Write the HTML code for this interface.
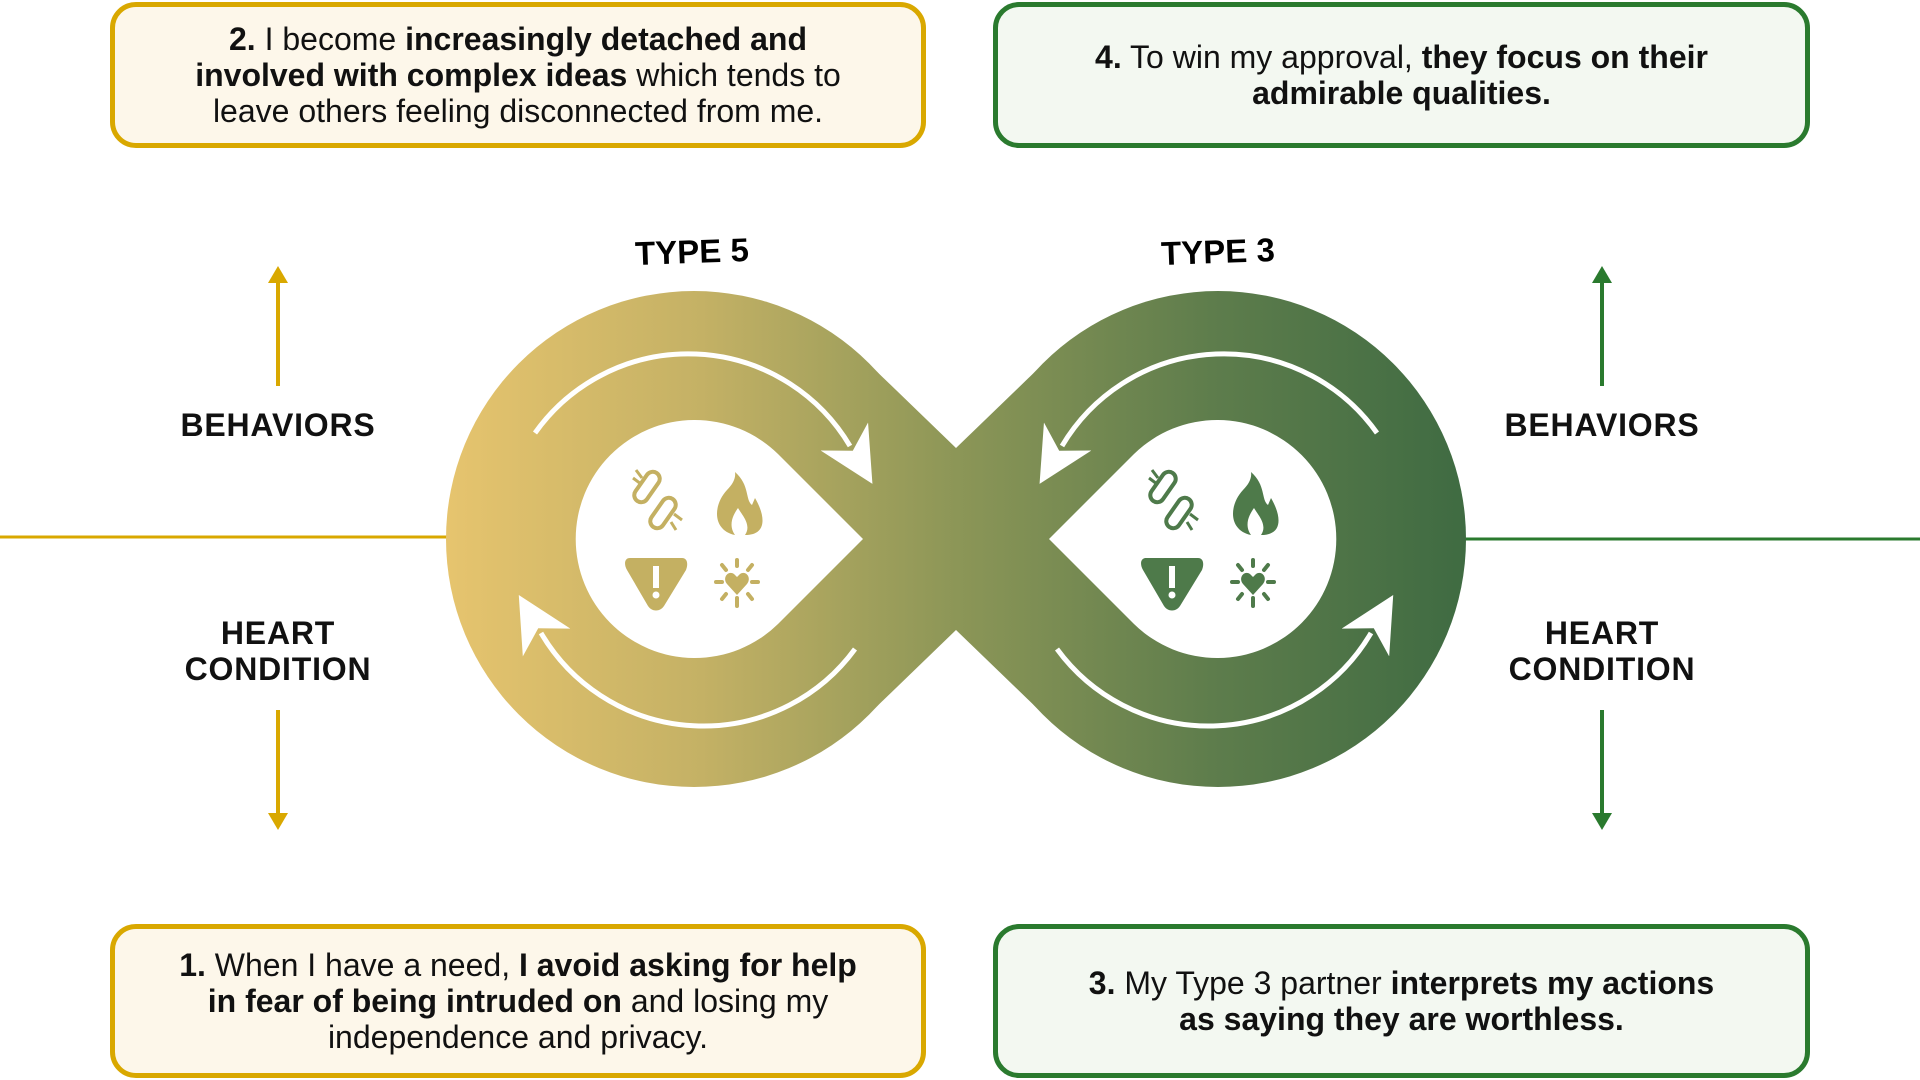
<!DOCTYPE html>
<html><head><meta charset="utf-8"><style>
html,body{margin:0;padding:0;background:#fff;}
body{width:1920px;height:1080px;position:relative;overflow:hidden;font-family:"Liberation Sans",sans-serif;color:#111;}
.box{position:absolute;box-sizing:border-box;border-radius:26px;border:5px solid;display:flex;align-items:center;justify-content:center;text-align:center;font-size:32px;line-height:36px;padding:0 20px;white-space:nowrap;}
.y{border-color:#d9a800;background:#fdf7ea;}
.g{border-color:#2a7a2e;background:#f3f8f1;}
.lbl{position:absolute;font-weight:bold;font-size:32px;letter-spacing:0.8px;line-height:36px;text-align:center;width:300px;}
</style></head><body>
<div class="box y" style="left:110px;top:2px;width:816px;height:146px;"><div><b>2.</b> I become <b>increasingly detached and</b><br><b>involved with complex ideas</b> which tends to<br>leave others feeling disconnected from me.</div></div>
<div class="box g" style="left:993px;top:2px;width:817px;height:146px;"><div><b>4.</b> To win my approval, <b>they focus on their</b><br><b>admirable qualities.</b></div></div>
<div class="box y" style="left:110px;top:924px;width:816px;height:154px;"><div><b>1.</b> When I have a need, <b>I avoid asking for help</b><br><b>in fear of being intruded on</b> and losing my<br>independence and privacy.</div></div>
<div class="box g" style="left:993px;top:924px;width:817px;height:154px;"><div><b>3.</b> My Type 3 partner <b>interprets my actions</b><br><b>as saying they are worthless.</b></div></div>

<div class="lbl" style="left:128px;top:407px;">BEHAVIORS</div>
<div class="lbl" style="left:128px;top:615px;">HEART<br>CONDITION</div>
<div class="lbl" style="left:1452px;top:407px;">BEHAVIORS</div>
<div class="lbl" style="left:1452px;top:615px;">HEART<br>CONDITION</div>

<svg width="1920" height="1080" style="position:absolute;left:0;top:0" xmlns="http://www.w3.org/2000/svg">
<defs>
<linearGradient id="gr" x1="447" y1="0" x2="1466" y2="0" gradientUnits="userSpaceOnUse">
<stop offset="0" stop-color="#e6c46e"/><stop offset="0.25" stop-color="#c4b165"/><stop offset="0.5" stop-color="#8c9657"/><stop offset="0.75" stop-color="#5e7d4c"/><stop offset="1" stop-color="#3f6b42"/>
</linearGradient>
<marker id="ah" viewBox="0 0 10 10" refX="2" refY="5" markerWidth="11" markerHeight="11" markerUnits="strokeWidth" orient="auto"><path d="M0,0 L10,5 L0,10 L3,5 Z" fill="#fff"/></marker>
<g id="ic">
<g fill="none" stroke-width="4"><rect x="640" y="470" width="14" height="34" rx="7" transform="rotate(35 647 487)"/><rect x="656" y="496" width="14" height="34" rx="7" transform="rotate(35 663 513)"/>
<path d="M633,478 l8,6 M636,470 l6,8 M682,520 l-8,-6 M676,530 l-5,-8" stroke-width="3"/></g>
<path stroke="none" d="M735,472 C750,485 745,500 752,505 L755,498 C765,515 768,535 745,535 C752,525 742,515 738,508 C733,515 728,525 735,535 C712,530 713,505 727,490 C733,484 736,478 735,472Z"/>
<path stroke="none" d="M630,558 L682,558 C688,558 688,565 686,570 L664,606 C660,612 652,612 648,606 L627,570 C624,565 624,558 630,558Z"/>
<rect x="653" y="566" width="6" height="22" fill="#fff" stroke="none"/><circle cx="656" cy="595" r="3.5" fill="#fff" stroke="none"/>
<path stroke="none" d="M737,595 L727,584 C722,578 728,570 734,574 L737,577 L740,574 C746,570 752,578 747,584Z"/>
<g stroke-width="4" stroke-linecap="round" fill="none"><path d="M737,560 v6 M737,598 v8 M716,582 h6 M752,582 h6 M722,565 l4,5 M752,565 l-4,5 M722,599 l4,-5 M752,599 l-4,-5"/></g>
</g>
</defs>
<line x1="0" y1="537" x2="447" y2="537" stroke="#d9a800" stroke-width="3"/>
<line x1="1464" y1="539" x2="1920" y2="539" stroke="#2a7a2e" stroke-width="3"/>
<line x1="278" y1="386" x2="278" y2="280" stroke="#d9a800" stroke-width="4"/><path d="M268,283 L278,266 L288,283Z" fill="#d9a800"/>
<line x1="278" y1="710" x2="278" y2="816" stroke="#d9a800" stroke-width="4"/><path d="M268,813 L278,830 L288,813Z" fill="#d9a800"/>
<line x1="1602" y1="386" x2="1602" y2="280" stroke="#2a7a2e" stroke-width="4"/><path d="M1592,283 L1602,266 L1612,283Z" fill="#2a7a2e"/>
<line x1="1602" y1="710" x2="1602" y2="816" stroke="#2a7a2e" stroke-width="4"/><path d="M1592,813 L1602,830 L1612,813Z" fill="#2a7a2e"/>
<g fill="url(#gr)">
<circle cx="694" cy="539" r="248"/><circle cx="1218" cy="539" r="248"/>
<polygon points="869,364 956,448 1043,364 1043,714 956,630 869,714"/>
</g>
<path d="M863,539 L778,454 A119,119 0 1 0 778,624 Z" fill="#fff"/>
<path d="M1049,539 L1134,454 A119,119 0 1 1 1134,624 Z" fill="#fff"/>
<g fill="none" stroke="#fff" stroke-width="5" marker-end="url(#ah)">
<path d="M535,433 A188,188 0 0 1 850,446"/>
<path d="M855,649 A188,188 0 0 1 541,633"/>
<path d="M1377,433 A188,188 0 0 0 1062,446"/>
<path d="M1057,649 A188,188 0 0 0 1371,633"/>
</g>
<text x="692" y="263" text-anchor="middle" font-family="Liberation Sans" font-weight="bold" font-size="33" transform="rotate(-2 692 253)">TYPE 5</text>
<text x="1218" y="263" text-anchor="middle" font-family="Liberation Sans" font-weight="bold" font-size="33" transform="rotate(-2 1218 253)">TYPE 3</text>
<g fill="#c4b062" stroke="#c4b062"><use href="#ic"/></g>
<g fill="#4e7a4a" stroke="#4e7a4a" transform="translate(516 0)"><use href="#ic"/></g>
</svg>
</body></html>
